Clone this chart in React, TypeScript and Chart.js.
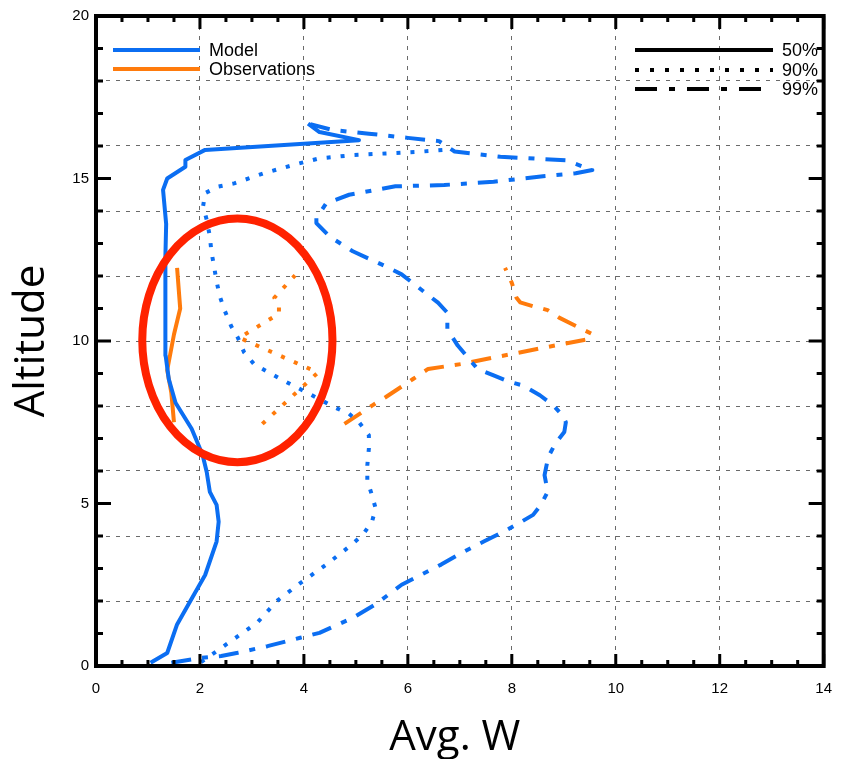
import React, { useEffect, useRef } from 'react';
import { Chart, registerables } from 'chart.js';

Chart.register(...registerables);

// ---- axis ranges & tick labels ----
const X_MIN = 0;
const X_MAX = 14;
const Y_MIN = 0;
const Y_MAX = 20;
const X_STEP = 2;
const Y_LABEL_STEP = 5;

// ---- series (x = Avg. W, y = Altitude) ----
const model50: [number, number][] = [
  [1.05, 0.1], [1.37, 0.4], [1.56, 1.28], [1.78, 1.9], [2.1, 2.8], [2.32, 3.83], [2.36, 4.44],
  [2.32, 4.96], [2.19, 5.36], [2.13, 5.97], [2.05, 6.5], [1.84, 7.3], [1.53, 8.1], [1.4, 8.83],
  [1.34, 9.55], [1.33, 10.57], [1.34, 12.6], [1.35, 13.6], [1.29, 14.65], [1.37, 15.0],
  [1.72, 15.36], [1.72, 15.57], [2.1, 15.88], [5.06, 16.18], [4.3, 16.43], [4.08, 16.69],
];
const model90: [number, number][] = [
  [2.02, 0.12], [2.6, 0.77], [3.1, 1.33], [3.48, 2.0], [3.93, 2.55], [4.43, 3.12], [4.87, 3.67],
  [5.13, 4.03], [5.31, 4.44], [5.38, 4.85], [5.31, 5.25], [5.22, 5.71], [5.22, 6.17], [5.25, 6.69],
  [5.25, 7.1], [5.06, 7.5], [4.87, 7.76], [4.59, 7.96], [4.05, 8.42], [3.55, 8.83], [3.04, 9.29],
  [2.85, 9.65], [2.73, 10.1], [2.6, 10.46], [2.48, 10.92], [2.38, 11.38], [2.32, 11.84],
  [2.27, 12.3], [2.22, 12.76], [2.19, 13.22], [2.13, 13.73], [2.06, 14.14], [2.1, 14.55],
  [2.35, 14.75], [2.66, 14.85], [3.23, 15.16], [3.8, 15.42], [4.3, 15.62], [4.94, 15.72],
  [5.57, 15.77], [6.2, 15.82], [6.85, 15.9],
];
const model99: [number, number][] = [
  [1.45, 0.1], [2.03, 0.25], [2.41, 0.31], [2.73, 0.41], [3.3, 0.61], [3.93, 0.87], [4.3, 1.02],
  [4.94, 1.48], [5.38, 1.9], [5.88, 2.5], [6.64, 3.12], [7.02, 3.47], [7.46, 3.83], [7.84, 4.13],
  [8.09, 4.35], [8.41, 4.65], [8.56, 4.96], [8.69, 5.36], [8.63, 5.87], [8.7, 6.43], [8.84, 6.85],
  [9.01, 7.2], [9.04, 7.5], [8.98, 7.71], [8.79, 8.03], [8.54, 8.33], [8.22, 8.63], [7.94, 8.75],
  [7.65, 8.94], [7.34, 9.14], [7.15, 9.5], [6.96, 9.86], [6.76, 10.36], [6.76, 10.87],
  [6.58, 11.18], [5.88, 12.05], [5.57, 12.3], [4.94, 12.76], [4.49, 13.22], [4.24, 13.63],
  [4.24, 13.78], [4.43, 14.24], [4.87, 14.5], [5.76, 14.76], [6.7, 14.8], [7.65, 14.9],
  [8.6, 15.07], [9.23, 15.16], [9.55, 15.26], [9.04, 15.56], [7.78, 15.67], [6.9, 15.83],
  [6.6, 16.15], [6.0, 16.25], [5.25, 16.38], [4.56, 16.49], [4.08, 16.69],
];
const obs50: [number, number][] = [
  [1.5, 7.5], [1.45, 8.4], [1.37, 9.1], [1.5, 10.2], [1.62, 11.0], [1.56, 12.25],
];
const obs90: [number, number][] = [
  [3.2, 7.45], [4.27, 9.03], [2.76, 10.1], [3.52, 10.84], [3.52, 11.07], [3.43, 11.33], [3.83, 12.02],
];
const obs99: [number, number][] = [
  [4.78, 7.45], [5.31, 8.01], [5.57, 8.27], [6.1, 8.83], [6.39, 9.14], [7.02, 9.29], [7.65, 9.49],
  [8.54, 9.77], [9.48, 10.06], [9.55, 10.21], [9.26, 10.44], [8.91, 10.72], [8.69, 10.95],
  [8.41, 11.07], [8.16, 11.19], [8.09, 11.33], [8.0, 11.79], [7.87, 12.25],
];

// ---- labels ----
const seriesNames = ['Model', 'Observations'];
const percentileNames = ['50%', '90%', '99%'];
const xTitle = 'Avg. W';
const yTitle = 'Altitude';

// ---- highlight ellipse (data units) ----
const ellipseCenter: [number, number] = [2.72, 10.02];
const ellipseRadii: [number, number] = [1.83, 3.75];

const BLUE = '#0b6ef2';
const ORANGE = '#ff7b0c';
const RED = '#ff2200';
const DOT = [4, 10];
const DASHDOT = [20, 11, 6, 11];

export default function App() {
  const ref = useRef<HTMLCanvasElement>(null);

  useEffect(() => {
    const canvas = ref.current;
    if (!canvas) return;

    const mk = (label: string, pts: [number, number][], color: string, dash: number[]) => ({
      label,
      data: pts.map(([x, y]) => ({ x, y })),
      borderColor: color,
      backgroundColor: color,
      borderWidth: 4,
      borderDash: dash,
      borderCapStyle: 'butt' as const,
      borderJoinStyle: 'round' as const,
      pointRadius: 0,
      showLine: true,
      fill: false,
      tension: 0,
    });

    const datasets = [
      mk('Model 50%', model50, BLUE, []),
      mk('Model 90%', model90, BLUE, DOT),
      mk('Model 99%', model99, BLUE, DASHDOT),
      mk('Obs 50%', obs50, ORANGE, []),
      mk('Obs 90%', obs90, ORANGE, DOT),
      mk('Obs 99%', obs99, ORANGE, DASHDOT),
    ];

    const decor = {
      id: 'decor',
      afterDatasetsDraw(chart: any) {
        const { ctx, scales } = chart;
        const xs = scales.x, ys = scales.y;
        const cx = xs.getPixelForValue(ellipseCenter[0]);
        const cy = ys.getPixelForValue(ellipseCenter[1]);
        const rx = Math.abs(xs.getPixelForValue(ellipseCenter[0] + ellipseRadii[0]) - cx);
        const ry = Math.abs(ys.getPixelForValue(ellipseCenter[1] + ellipseRadii[1]) - cy);
        ctx.save();
        ctx.strokeStyle = RED;
        ctx.lineWidth = 8;
        ctx.setLineDash([]);
        ctx.beginPath();
        ctx.ellipse(cx, cy, rx, ry, 0, 0, Math.PI * 2);
        ctx.stroke();
        ctx.restore();
      },
      afterDraw(chart: any) {
        const { ctx, chartArea: a, scales } = chart;
        const xs = scales.x, ys = scales.y;
        ctx.save();
        ctx.setLineDash([]);
        ctx.strokeStyle = '#000';
        // inward ticks
        ctx.lineWidth = 3;
        ctx.beginPath();
        for (let v = X_MIN; v <= X_MAX + 1e-9; v += 0.5) {
          const px = xs.getPixelForValue(v);
          const major = Math.abs(v % X_STEP) < 1e-9;
          const lb = major ? 12 : 6;
          const lt = major ? 13 : 6;
          ctx.moveTo(px, a.bottom);
          ctx.lineTo(px, a.bottom - lb);
          ctx.moveTo(px, a.top);
          ctx.lineTo(px, a.top + lt);
        }
        for (let v = Y_MIN; v <= Y_MAX + 1e-9; v += 1) {
          const py = ys.getPixelForValue(v);
          const major = v % Y_LABEL_STEP === 0;
          const ll = major ? 15 : 7;
          ctx.moveTo(a.left, py);
          ctx.lineTo(a.left + ll, py);
          ctx.moveTo(a.right, py);
          ctx.lineTo(a.right - ll, py);
        }
        ctx.stroke();
        // frame
        ctx.lineWidth = 4;
        ctx.strokeRect(a.left, a.top, a.right - a.left, a.bottom - a.top);

        // series legend (top-left)
        ctx.font = '18px "Liberation Sans", Arial, sans-serif';
        ctx.fillStyle = '#000';
        ctx.textBaseline = 'middle';
        ctx.textAlign = 'left';
        const sColors = [BLUE, ORANGE];
        const sY = [50, 69];
        seriesNames.forEach((n, i) => {
          ctx.strokeStyle = sColors[i];
          ctx.lineWidth = 4;
          ctx.setLineDash([]);
          ctx.beginPath();
          ctx.moveTo(113, sY[i]);
          ctx.lineTo(200, sY[i]);
          ctx.stroke();
          ctx.fillText(n, 209, sY[i] + 1);
        });
        // percentile legend (top-right)
        const pDash = [[], [4, 11], [22, 12, 6, 12]];
        const pY = [50, 70, 89];
        percentileNames.forEach((n, i) => {
          ctx.strokeStyle = '#000';
          ctx.lineWidth = 4;
          ctx.setLineDash(pDash[i]);
          ctx.lineCap = 'butt';
          ctx.beginPath();
          ctx.moveTo(635, pY[i]);
          ctx.lineTo(773, pY[i]);
          ctx.stroke();
          ctx.fillText(n, 782, pY[i] + 1);
        });
        ctx.setLineDash([]);

        // axis titles
        ctx.font = '42px "Open Sans", sans-serif';
        ctx.textBaseline = 'alphabetic';
        ctx.textAlign = 'center';
        ctx.fillText(xTitle, (a.left + a.right) / 2 - 5, 750);
        ctx.translate(44, (a.top + a.bottom) / 2);
        ctx.rotate(-Math.PI / 2);
        ctx.fillText(yTitle, 0, 0);
        ctx.restore();
      },
    };

    const tickFont = { family: '"Liberation Sans", Arial, sans-serif', size: 15 };

    const chart = new Chart(canvas, {
      type: 'scatter',
      data: { datasets: datasets as any },
      options: {
        responsive: false,
        animation: false,
        layout: { padding: { top: 12, right: 11, left: 0, bottom: 0 } },
        plugins: { legend: { display: false }, tooltip: { enabled: false } },
        scales: {
          x: {
            type: 'linear',
            min: X_MIN,
            max: X_MAX,
            afterFit: (s: any) => { s.height = 93; },
            ticks: { stepSize: X_STEP, padding: 14, font: tickFont, color: '#000', autoSkip: false, maxRotation: 0 },
            grid: {
              drawTicks: false,
              lineWidth: 1,
              color: (c: any) => (c.tick && c.tick.value > X_MIN && c.tick.value < X_MAX ? '#6a6a6a' : 'transparent'),
            },
            border: { display: false, dash: [4, 6] },
          },
          y: {
            type: 'linear',
            min: Y_MIN,
            max: Y_MAX,
            afterFit: (s: any) => { s.width = 96; },
            ticks: {
              stepSize: 1,
              padding: 7,
              font: tickFont,
              color: '#000',
              autoSkip: false,
              callback: (v: any) => (Number(v) % Y_LABEL_STEP === 0 ? String(v) : ''),
            },
            grid: {
              drawTicks: false,
              lineWidth: 1,
              color: (c: any) =>
                c.tick && c.tick.value % 2 === 0 && c.tick.value > Y_MIN && c.tick.value < Y_MAX ? '#6a6a6a' : 'transparent',
            },
            border: { display: false, dash: [4, 6] },
          },
        },
      },
      plugins: [decor],
    });

    return () => chart.destroy();
  }, []);

  return (
    <div style={{ position: 'fixed', left: 0, top: 0, width: 846, height: 759, background: '#fff' }}>
      <canvas ref={ref} width={846} height={759} style={{ display: 'block' }} />
    </div>
  );
}
